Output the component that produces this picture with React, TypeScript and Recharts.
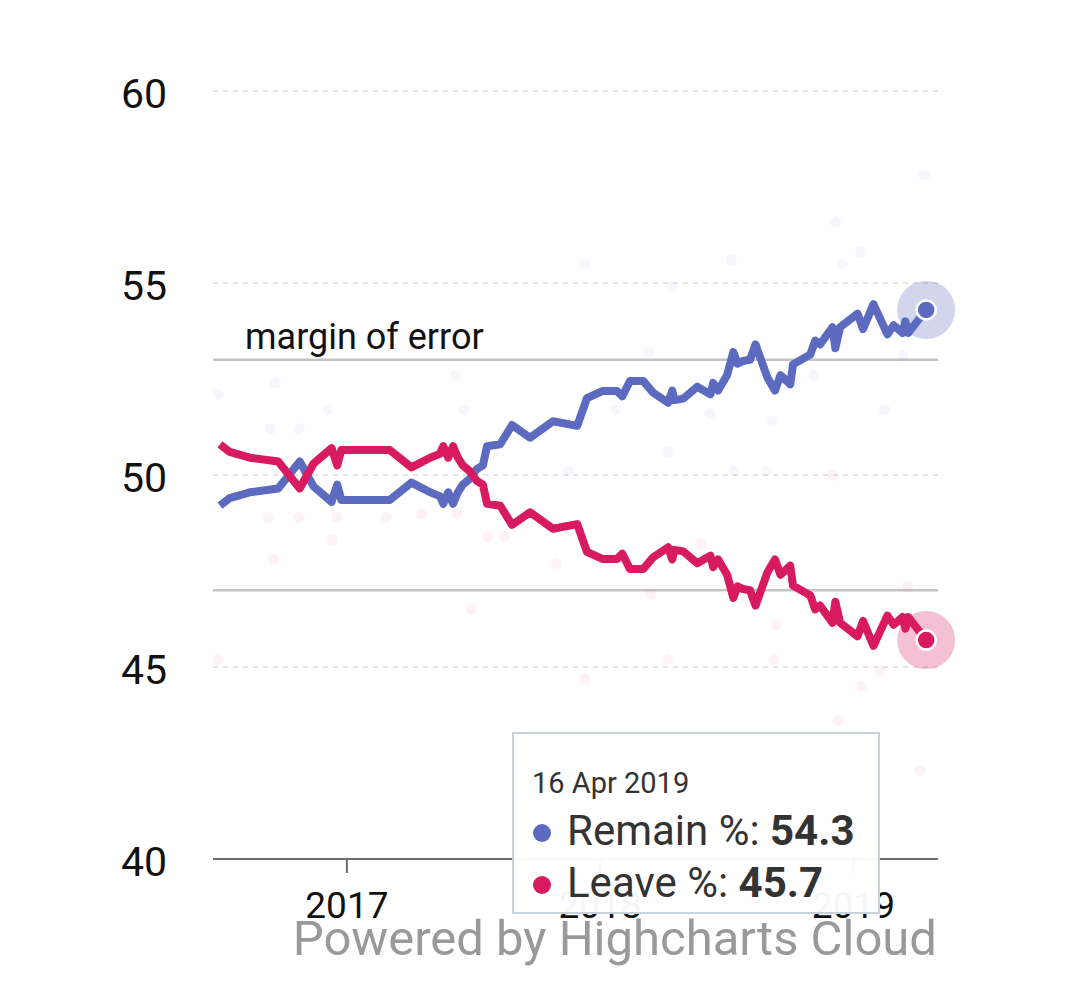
import React from 'react';
import { ComposedChart, Line, Scatter, XAxis, YAxis, CartesianGrid, ReferenceLine, Label } from 'recharts';

// ---- data ----
const pollDates = [
  '2016-07-02', '2016-07-16', '2016-08-14', '2016-09-24', '2016-10-25', '2016-11-14', '2016-12-10', '2016-12-18',
  '2016-12-24', '2017-01-05', '2017-03-04', '2017-04-04', '2017-05-01', '2017-05-15', '2017-05-20', '2017-05-27',
  '2017-06-03', '2017-06-10', '2017-06-17', '2017-06-27', '2017-07-07', '2017-07-16', '2017-07-22', '2017-08-10',
  '2017-08-27', '2017-09-22', '2017-10-25', '2017-11-29', '2017-12-13', '2018-01-05', '2018-01-25', '2018-02-02',
  '2018-02-13', '2018-03-04', '2018-03-18', '2018-04-09', '2018-04-15', '2018-04-18', '2018-05-01', '2018-05-21',
  '2018-06-09', '2018-06-13', '2018-06-20', '2018-07-03', '2018-07-12', '2018-07-18', '2018-07-26', '2018-08-05',
  '2018-08-13', '2018-08-30', '2018-09-10', '2018-09-18', '2018-10-02', '2018-10-06', '2018-10-31', '2018-11-07',
  '2018-11-14', '2018-12-02', '2018-12-06', '2018-12-13', '2019-01-07', '2019-01-15', '2019-01-30', '2019-02-19',
  '2019-02-28', '2019-03-13', '2019-03-17', '2019-03-21', '2019-04-03', '2019-04-16',
];

const remainPct = [
  49.2, 49.4, 49.55, 49.65, 50.35, 49.7, 49.3, 49.75,
  49.35, 49.35, 49.35, 49.8, 49.55, 49.45, 49.25, 49.55,
  49.25, 49.55, 49.75, 49.9, 50.15, 50.25, 50.75, 50.8,
  51.3, 50.97, 51.4, 51.28, 52.0, 52.19, 52.19, 52.05,
  52.45, 52.45, 52.15, 51.88, 52.2, 51.95, 51.99, 52.3,
  52.1, 52.4, 52.2, 52.6, 53.2, 52.9, 52.97, 53.0,
  53.4, 52.54, 52.2, 52.6, 52.36, 52.88, 53.14, 53.5,
  53.4, 53.85, 53.3, 53.85, 54.2, 53.8, 54.45, 53.66,
  53.9, 53.7, 54.0, 53.7, 54.0, 54.3,
];

const leavePct = [
  50.8, 50.6, 50.45, 50.35, 49.65, 50.3, 50.7, 50.25,
  50.65, 50.65, 50.65, 50.2, 50.45, 50.55, 50.75, 50.45,
  50.75, 50.45, 50.25, 50.1, 49.85, 49.75, 49.25, 49.2,
  48.7, 49.03, 48.6, 48.72, 48.0, 47.81, 47.81, 47.95,
  47.55, 47.55, 47.85, 48.12, 47.8, 48.05, 48.01, 47.7,
  47.9, 47.6, 47.8, 47.4, 46.8, 47.1, 47.03, 47.0,
  46.6, 47.46, 47.8, 47.4, 47.64, 47.12, 46.86, 46.5,
  46.6, 46.15, 46.7, 46.15, 45.8, 46.2, 45.55, 46.34,
  46.1, 46.3, 46.0, 46.3, 46.0, 45.7,
];

// individual polls (faint background dots)
const remainPollDates = [
  '2016-06-30', '2016-09-20', '2016-09-13', '2016-10-24', '2016-12-04', '2017-06-06', '2017-06-19', '2017-11-16',
  '2017-12-10', '2018-01-23', '2018-04-08', '2018-03-12', '2018-04-15', '2018-06-08', '2018-07-09', '2018-07-13',
  '2018-08-29', '2018-09-05', '2018-10-09', '2018-11-05', '2018-12-06', '2018-12-16', '2019-01-12', '2019-02-15',
  '2019-03-14', '2019-04-13',
];
const remainPollValues = [
  52.1, 52.4, 51.2, 51.2, 51.7, 52.6, 51.7, 50.1,
  55.5, 51.7, 50.6, 53.2, 54.9, 51.6, 55.6, 50.1,
  50.1, 51.4, 52.4, 52.6, 56.6, 55.5, 55.8, 51.7,
  53.1, 57.8,
];
const leavePollDates = [
  '2016-09-10', '2016-10-24', '2016-12-18', '2016-12-11', '2017-02-27', '2016-09-17', '2016-06-30', '2017-06-09',
  '2017-04-19', '2017-07-23', '2017-06-30', '2017-08-16', '2017-10-30', '2018-05-26', '2019-03-20', '2018-03-15',
  '2018-08-09', '2018-09-08', '2018-09-12', '2018-04-08', '2017-12-10', '2019-02-09', '2019-01-12', '2018-12-10',
  '2019-04-07', '2018-12-02',
];
const leavePollValues = [
  48.9, 48.9, 48.9, 48.3, 48.9, 47.8, 45.2, 49.0,
  49.0, 48.4, 46.5, 48.4, 47.7, 48.2, 47.1, 46.9,
  46.8, 45.2, 46.1, 45.2, 44.7, 44.9, 44.5, 43.6,
  42.3, 50.0,
];

const yTicks = [40, 45, 50, 55, 60];
const xTickDates = ['2017-01-01', '2018-01-01', '2019-01-01'];
const xDomainDates = ['2016-06-22', '2019-05-03'];
const marginOfErrorLines = [53, 47];
const seriesNames = ['Remain %', 'Leave %'];
const monthNames = ['Jan', 'Feb', 'Mar', 'Apr', 'May', 'Jun', 'Jul', 'Aug', 'Sep', 'Oct', 'Nov', 'Dec'];

// ---- styles ----
const REMAIN = '#5c6bc0';
const LEAVE = '#d81b60';
const FONT = 'Roboto, "Noto Sans", sans-serif';

const toTs = (d: string) => Date.parse(d + 'T00:00:00Z');
const fmtDate = (d: string) => {
  const dt = new Date(toTs(d));
  return `${dt.getUTCDate()} ${monthNames[dt.getUTCMonth()]} ${dt.getUTCFullYear()}`;
};

const lineData = pollDates.map((d, i) => ({ t: toTs(d), remain: remainPct[i], leave: leavePct[i] }));
const remainPolls = remainPollDates.map((d, i) => ({ t: toTs(d), v: remainPollValues[i] }));
const leavePolls = leavePollDates.map((d, i) => ({ t: toTs(d), v: leavePollValues[i] }));
const lastIdx = pollDates.length - 1;

const makeEndDot = (color: string) => (props: any) => {
  const { cx, cy, index } = props;
  if (index !== lastIdx || cx == null || cy == null) return <g key={`d${index}`} />;
  return (
    <g key={`d${index}`}>
      <circle cx={cx} cy={cy} r={29} fill={color} fillOpacity={0.28} />
      <circle cx={cx} cy={cy} r={9.5} fill={color} stroke="#ffffff" strokeWidth={2.5} />
    </g>
  );
};

const makeFaintDot = (color: string) => (props: any) => (
  <circle cx={props.cx} cy={props.cy} r={5.5} fill={color} fillOpacity={0.055} />
);

const YTick = (props: any) => (
  <text x={props.x} y={props.y} dy={17} textAnchor="end" fontSize={41} fill="#111" fontFamily={FONT}>
    {props.payload.value}
  </text>
);

const XTick = (props: any) => (
  <text x={props.x} y={props.y} dy={37} textAnchor="middle" fontSize={37} fill="#111" fontFamily={FONT}>
    {new Date(props.payload.value).getUTCFullYear()}
  </text>
);

const MoeLabel = (props: any) => {
  const vb = props.viewBox || {};
  return (
    <text x={(vb.x ?? 0) + 32} y={(vb.y ?? 0) - 11} fontSize={36} fill="#111" fontFamily={FONT}>
      margin of error
    </text>
  );
};

export default function App() {
  const lastDate = fmtDate(pollDates[lastIdx]);
  return (
    <div style={{ position: 'absolute', left: 0, top: 0, width: 1080, height: 990, background: '#fff' }}>
      <ComposedChart
        width={1080}
        height={990}
        margin={{ top: 91, right: 142, bottom: 61, left: 0 }}
      >
        <CartesianGrid vertical={false} stroke="#dcdcdc" strokeWidth={1.5} strokeDasharray="5 5" />
        <XAxis
          dataKey="t"
          type="number"
          scale="time"
          domain={xDomainDates.map(toTs)}
          ticks={xTickDates.map(toTs)}
          height={70}
          axisLine={{ stroke: '#6e6e6e', strokeWidth: 2 }}
          tickLine={{ stroke: '#6e6e6e', strokeWidth: 2 }}
          tickSize={14}
          tickMargin={8}
          tick={<XTick />}
        />
        <YAxis
          type="number"
          domain={[40, 60]}
          ticks={yTicks}
          width={213}
          axisLine={false}
          tickLine={false}
          tickSize={0}
          tickMargin={46}
          tick={<YTick />}
        />
        <ReferenceLine y={marginOfErrorLines[0]} stroke="#c4c4c4" strokeWidth={2.5}>
          <Label content={<MoeLabel />} />
        </ReferenceLine>
        <ReferenceLine y={marginOfErrorLines[1]} stroke="#c4c4c4" strokeWidth={2.5} />
        <Scatter data={remainPolls} dataKey="v" shape={makeFaintDot(REMAIN)} isAnimationActive={false} />
        <Scatter data={leavePolls} dataKey="v" shape={makeFaintDot(LEAVE)} isAnimationActive={false} />
        <Line
          data={lineData}
          dataKey="remain"
          name={seriesNames[0]}
          type="linear"
          stroke={REMAIN}
          strokeWidth={8}
          strokeLinejoin="round"
          dot={makeEndDot(REMAIN)}
          activeDot={false}
          isAnimationActive={false}
        />
        <Line
          data={lineData}
          dataKey="leave"
          name={seriesNames[1]}
          type="linear"
          stroke={LEAVE}
          strokeWidth={8}
          strokeLinejoin="round"
          dot={makeEndDot(LEAVE)}
          activeDot={false}
          isAnimationActive={false}
        />
      </ComposedChart>
      <svg
        width={1080}
        height={990}
        style={{ position: 'absolute', left: 0, top: 0, pointerEvents: 'none' }}
        fontFamily={FONT}
      >
        <g transform="translate(513,733)">
          <rect x={0} y={0} width={366} height={180} fill="#ffffff" fillOpacity={0.96} stroke="#c9d1d9" strokeWidth={2} />
          <text x={19} y={60} fontSize={29} fill="#333">{lastDate}</text>
          <circle cx={29} cy={100} r={9} fill={REMAIN} />
          <text x={54} y={112} fontSize={42} fill="#333">
            {seriesNames[0]}: <tspan fontWeight={700}>{remainPct[lastIdx].toFixed(1)}</tspan>
          </text>
          <circle cx={29} cy={152} r={9} fill={LEAVE} />
          <text x={54} y={164} fontSize={42} fill="#333">
            {seriesNames[1]}: <tspan fontWeight={700}>{leavePct[lastIdx].toFixed(1)}</tspan>
          </text>
        </g>
        <text x={937} y={955} textAnchor="end" fontSize={49} fill="#999999">
          Powered by Highcharts Cloud
        </text>
      </svg>
    </div>
  );
}
